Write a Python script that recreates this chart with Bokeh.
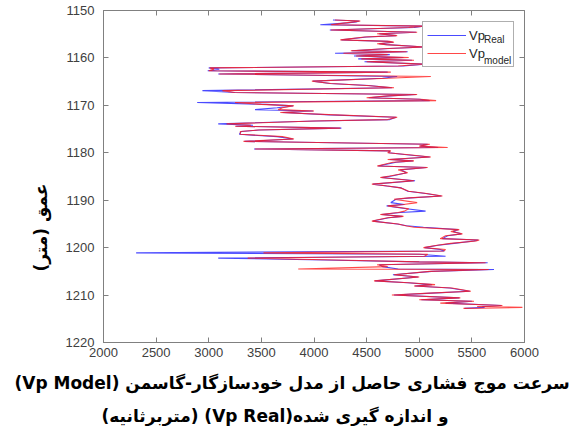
from bokeh.plotting import figure
from bokeh.models import (Range1d, LinearAxis, Legend, LegendItem,
                          FixedTicker, Title)
from bokeh.embed import file_html
from bokeh.resources import INLINE

# ---- data ----
depth = [1152.0, 1152.2, 1152.4, 1152.6, 1153.0, 1153.3, 1153.6, 1154.1, 1154.6, 1154.9,
         1155.3, 1155.6, 1156.2, 1156.5, 1156.7, 1157.0, 1157.2, 1157.7, 1158.0, 1158.5,
         1158.7, 1159.0, 1159.3, 1159.6, 1159.9, 1160.2, 1160.5, 1160.8, 1161.3, 1161.7,
         1162.1, 1162.4, 1162.7, 1163.0, 1163.4, 1163.9, 1164.3, 1164.9, 1165.4, 1165.8,
         1166.3, 1166.9, 1167.3, 1167.7, 1168.0, 1168.4, 1168.7, 1169.0, 1169.4, 1169.8,
         1170.1, 1170.5, 1170.9, 1171.2, 1171.5, 1172.0, 1172.5, 1173.0, 1173.3, 1173.9,
         1174.2, 1174.4, 1174.8, 1175.2, 1175.5, 1176.1, 1176.6, 1177.1, 1177.6, 1178.2,
         1178.6, 1178.9, 1179.2, 1179.6, 1180.0, 1180.4, 1180.9, 1181.4, 1181.7, 1182.0,
         1182.8, 1183.1, 1183.6, 1184.2, 1184.9, 1185.2, 1185.9, 1186.6, 1187.0, 1187.4,
         1188.1, 1188.6, 1189.1, 1189.5, 1189.8, 1190.5, 1190.9, 1191.2, 1191.8, 1192.3,
         1192.6, 1193.0, 1193.4, 1193.7, 1194.4, 1195.0, 1195.4, 1195.7, 1196.2, 1196.6,
         1197.1, 1197.5, 1198.1, 1198.4, 1198.6, 1199.1, 1199.5, 1200.0, 1200.4, 1200.7,
         1201.1, 1201.4, 1201.8, 1202.2, 1202.6, 1203.0, 1203.2, 1203.6, 1204.0, 1204.5,
         1204.6, 1205.0, 1205.7, 1206.2, 1207.0, 1207.4, 1207.8, 1208.1, 1208.5, 1209.2,
         1209.6, 1210.0, 1210.6, 1211.0, 1211.3, 1211.7, 1212.2, 1212.4, 1212.6, 1212.8]

vp_model = [4200, 4440, 4380, 4300, 4160, 5050, 4900, 4160, 4980, 4600,
            4790, 4480, 4250, 4720, 4760, 4600, 4680, 5060, 4700, 4350,
            4880, 4280, 4700, 4400, 4900, 4450, 4950, 4500, 5040, 4800,
            3010, 3050, 3000, 4730, 3100, 5110, 4700, 3980, 4160, 4500,
            4760, 3130, 3240, 4980, 4700, 4500, 5010, 5160, 3250, 3500,
            3810, 3700, 3660, 4000, 3680, 4200, 4790, 4700, 4000, 3170,
            3400, 3250, 4250, 3470, 3300, 3300, 3700, 3810, 3330, 5100,
            5000, 5270, 3440, 4730, 4700, 4900, 5110, 4700, 4950, 4750,
            4600, 5080, 4800, 4890, 4720, 4630, 4950, 4550, 4700, 4820,
            4900, 5070, 5220, 4900, 4760, 4980, 4850, 4700, 4900, 4860,
            4800, 4630, 4850, 4700, 4550, 4800, 4870, 4950, 5380, 5300,
            5410, 5250, 5200, 5570, 5540, 5300, 5170, 5040, 5250, 5230,
            3520, 5080, 5050, 3370, 4200, 5000, 5630, 4600, 4700, 3850,
            5660, 5100, 4760, 5000, 4570, 4900, 5150, 4950, 5310, 5490,
            5100, 4740, 5390, 5000, 5520, 5200, 5790, 5550, 5980, 5420]

vp_real = [4180, 4430, 4400, 4320, 4060, 5040, 4950, 4150, 4970, 4620,
           4780, 4500, 4260, 4700, 4750, 4620, 4690, 5050, 4720, 4360,
           4890, 4200, 4720, 4380, 4850, 4420, 4930, 4480, 5050, 4850,
           3000, 3100, 2990, 4700, 3090, 4790, 4650, 3990, 4150, 4520,
           4740, 2940, 3250, 4970, 4720, 4520, 5000, 5100, 2890, 3550,
           3800, 3650, 3440, 3990, 3700, 4150, 4780, 4720, 4020, 3090,
           3420, 3260, 4260, 3480, 3310, 3290, 3650, 3800, 3340, 5080,
           5010, 5180, 3430, 4720, 4710, 4880, 5100, 4720, 4940, 4780,
           4610, 5070, 4820, 4880, 4740, 4640, 4960, 4560, 4690, 4830,
           4890, 5060, 5210, 4920, 4780, 4730, 4860, 4690, 4880, 5060,
           4820, 4640, 4840, 4710, 4560, 4790, 4880, 5040, 5370, 5320,
           5400, 5270, 5220, 5560, 5520, 5330, 5180, 5050, 5200, 5240,
           2310, 5000, 5250, 3090, 4100, 5000, 5650, 4620, 4650, 4800,
           5710, 5120, 4750, 4990, 4580, 4890, 5120, 4960, 5290, 5480,
           5120, 4760, 5380, 5020, 5500, 5250, 5780, 5600, 5620, 5430]

x_ticks = [2000, 2500, 3000, 3500, 4000, 4500, 5000, 5500, 6000]
y_ticks = [1150, 1160, 1170, 1180, 1190, 1200, 1210, 1220]

RLE, PDF = "\u202b", "\u202c"
y_title = RLE + "عمق (متر)" + PDF
caption_1 = RLE + "سرعت موج فشاری حاصل از مدل خودسازگار-گاسمن (Vp Model)" + PDF
caption_2 = RLE + "و اندازه گیری شده(Vp Real) (متربرثانیه)" + PDF
legend_labels = ["Vp", "Vp"]
legend_subs = ["Real", "model"]

axis_grey = "#808080"
tick_grey = "#404040"

p = figure(frame_width=421, frame_height=332, output_backend="svg", toolbar_location=None,
           x_range=Range1d(2000, 6000), y_range=Range1d(1220, 1150),
           min_border_left=103, min_border_right=59, min_border_top=10,
           min_border_bottom=0)

p.xgrid.visible = False
p.ygrid.visible = False
p.outline_line_color = axis_grey
p.background_fill_color = "white"
p.border_fill_color = "white"

r_real = p.line(vp_real, depth, line_color="#2a2aff", line_width=1.1, line_alpha=0.85)
r_model = p.line(vp_model, depth, line_color="#ff1a1a", line_width=1.1, line_alpha=0.8)

for ax in (p.xaxis[0], p.yaxis[0]):
    ax.axis_line_color = axis_grey
    ax.major_tick_line_color = axis_grey
    ax.major_tick_in = 5
    ax.major_tick_out = 0
    ax.minor_tick_line_color = None
    ax.major_label_text_color = tick_grey
    ax.major_label_text_font = "Liberation Sans"
    ax.major_label_text_font_size = "13px"

p.xaxis[0].ticker = FixedTicker(ticks=x_ticks)
p.yaxis[0].ticker = FixedTicker(ticks=y_ticks)
p.xaxis[0].major_label_standoff = 5
p.yaxis[0].major_label_standoff = 9

for loc, ticks in (("above", x_ticks), ("right", y_ticks)):
    ax = LinearAxis(ticker=FixedTicker(ticks=ticks))
    ax.axis_line_color = None
    ax.major_tick_line_color = axis_grey
    ax.major_tick_in = 5
    ax.major_tick_out = 0
    ax.minor_tick_line_color = None
    ax.major_label_text_color = None
    ax.major_label_text_font_size = "1px"
    ax.major_label_standoff = 0
    p.add_layout(ax, loc)

# y-axis title (placed lower than the frame centre, as in the reference)
p.add_layout(Title(text=y_title, align="left", offset=71, standoff=23,
                   text_font="DejaVu Sans", text_font_style="bold",
                   text_font_size="17px", text_color="black"), "left")

legend = Legend(items=[LegendItem(label=legend_labels[0], renderers=[r_real]),
                       LegendItem(label=legend_labels[1], renderers=[r_model])],
                location=(319, 275), orientation="vertical",
                padding=4, spacing=0, margin=0,
                glyph_width=39, glyph_height=18, label_height=18, label_width=40,
                label_standoff=3, label_text_font="Liberation Sans",
                label_text_font_size="13px", label_text_color="#262626",
                border_line_color="#606060", border_line_width=1,
                background_fill_color="white", background_fill_alpha=1)
p.add_layout(legend, "center")

# subscripts of the legend labels
sub_legend = Legend(items=[LegendItem(label=legend_subs[0], renderers=[r_real]),
                           LegendItem(label=legend_subs[1], renderers=[r_model])],
                    location=(381, 271), orientation="vertical",
                    padding=0, spacing=0, margin=0,
                    glyph_width=0, glyph_height=21, label_height=21,
                    label_standoff=0, label_text_font="Liberation Sans",
                    label_text_font_size="10px", label_text_color="#262626",
                    border_line_color=None, background_fill_alpha=0)
p.add_layout(sub_legend, "center")

cap_kw = dict(text_font="DejaVu Sans", text_font_style="bold", text_font_size="17px",
              text_color="black", align="left")
p.add_layout(Title(text=caption_1, standoff=22, offset=-89, **cap_kw), "below")
p.add_layout(Title(text=caption_2, standoff=1, offset=-2, **cap_kw), "below")

open("out.html", "w").write(file_html(p, INLINE))
